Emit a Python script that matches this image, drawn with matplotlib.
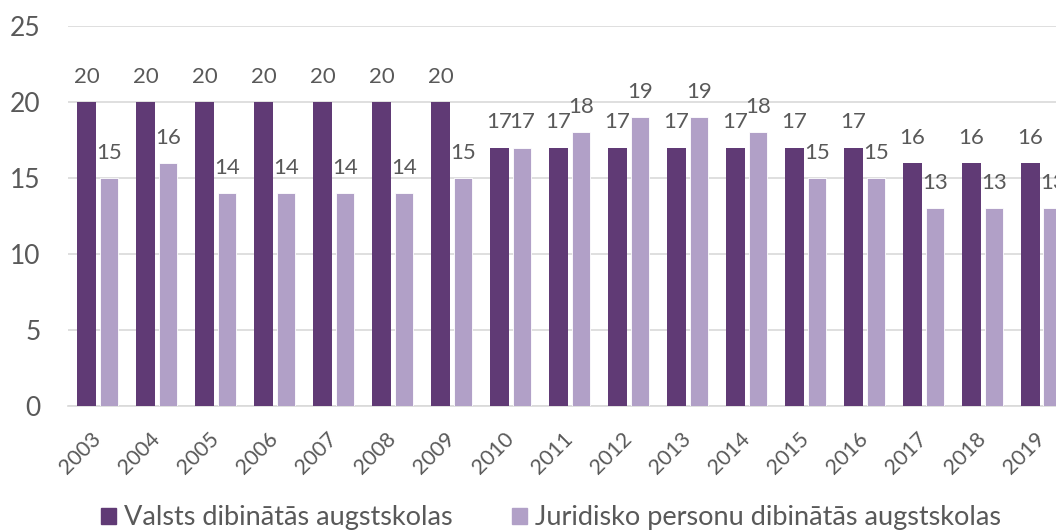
import numpy as np
import matplotlib
matplotlib.use("Agg")
import matplotlib.pyplot as plt
import matplotlib.transforms as mtransforms
from matplotlib.patches import Patch

# --- Data -------------------------------------------------------------------
years = ["2003", "2004", "2005", "2006", "2007", "2008", "2009", "2010", "2011",
         "2012", "2013", "2014", "2015", "2016", "2017", "2018", "2019"]
valsts = [20, 20, 20, 20, 20, 20, 20, 17, 17, 17, 17, 17, 17, 17, 16, 16, 16]
juridisko = [15, 16, 14, 14, 14, 14, 15, 17, 18, 19, 19, 18, 15, 15, 13, 13, 13]
series_names = ["Valsts dibinātās augstskolas",
                "Juridisko personu dibinātās augstskolas"]

DARK = "#603A75"
LIGHT = "#B1A0C7"
GREY = "#595959"
GRID = "#D9D9D9"

plt.rcParams["font.family"] = ["Lato", "DejaVu Sans"]

W_PX, H_PX = 1056, 532
fig = plt.figure(figsize=(W_PX / 100, H_PX / 100), dpi=100)
# plot area runs a little past the right edge (the source image is cropped)
left, right = 68.4, 1071.0
bottom, top = 406.0, 26.0
ax = fig.add_axes([left / W_PX, 1 - bottom / H_PX,
                   (right - left) / W_PX, (bottom - top) / H_PX])

x = np.arange(len(years))
bw = 0.313
off = 0.19
b1 = ax.bar(x - off, valsts, bw, color=DARK, zorder=3)
b2 = ax.bar(x + off, juridisko, bw, color=LIGHT, edgecolor="white",
            linewidth=0.6, zorder=3)

for bars in (b1, b2):
    for r in bars:
        ax.annotate(f"{r.get_height():g}",
                    (r.get_x() + r.get_width() / 2, r.get_height()),
                    xytext=(0, 11), textcoords="offset points",
                    ha="center", va="bottom", fontsize=16, color=GREY)

ax.set_xlim(-0.5, len(years) - 0.5)
ax.set_ylim(0, 25)
ax.set_yticks([0, 5, 10, 15, 20, 25])
ax.yaxis.grid(True, color=GRID, linewidth=1.2, zorder=0)
ax.set_axisbelow(True)
for s in ("top", "right", "left"):
    ax.spines[s].set_visible(False)
ax.spines["bottom"].set_color(GRID)
ax.spines["bottom"].set_linewidth(1.2)
ax.tick_params(axis="y", length=0, labelsize=19, labelcolor=GREY, pad=20)
ax.tick_params(axis="x", length=0, labelsize=15.5, labelcolor=GREY, pad=16)
ax.set_xticks(x)
ax.set_xticklabels(years, rotation=45, ha="right", rotation_mode="anchor")
shift = mtransforms.ScaledTranslation(-7 / 100, 0, fig.dpi_scale_trans)
for lab in ax.get_xticklabels():
    lab.set_transform(lab.get_transform() + shift)

handles = [Patch(color=DARK), Patch(color=LIGHT)]
fig.legend(handles, series_names, loc="center", ncol=2, frameon=False,
           bbox_to_anchor=(551 / W_PX, 1 - 518 / H_PX), fontsize=19.5,
           labelcolor=GREY, handlelength=0.55, handleheight=0.55,
           handletextpad=0.3, columnspacing=2.2)

fig.savefig("out.png", dpi=100)
